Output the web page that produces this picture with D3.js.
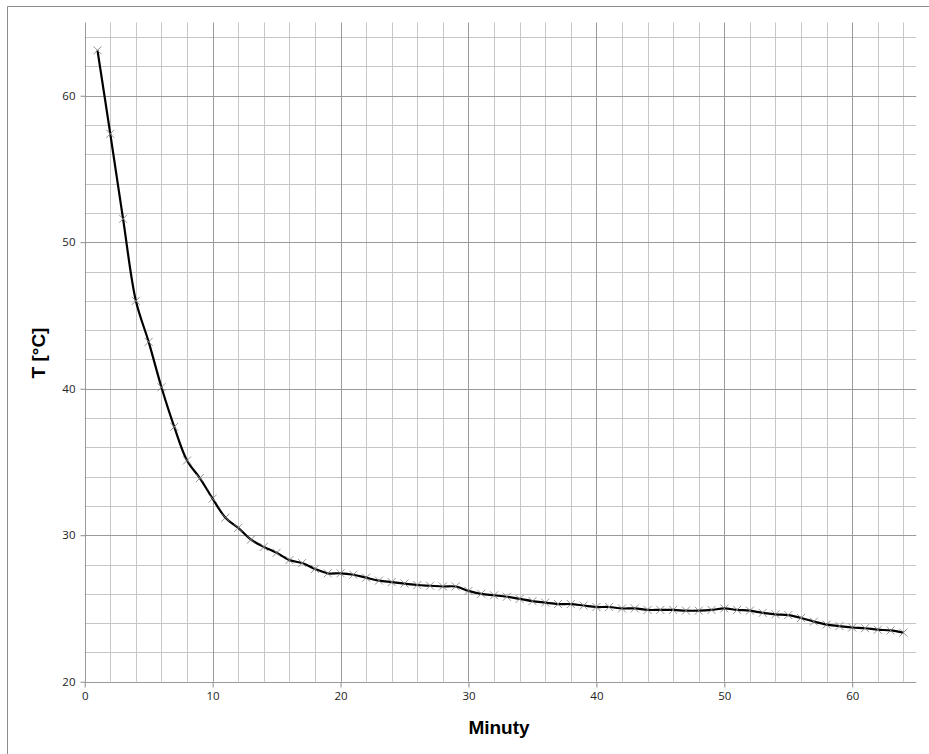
<!DOCTYPE html>
<html>
<head>
<meta charset="utf-8">
<script src="https://cdn.jsdelivr.net/npm/d3@7"></script>
<style>
  html, body { margin: 0; padding: 0; background: #fff; }
  svg { display: block; }
</style>
</head>
<body>
<svg id="chart" width="929" height="754"></svg>
<script>
// ---- data ----
const minutes = d3.range(1, 65);
const temps = [
  63.1, 57.4, 51.6, 46.0, 43.2, 40.1, 37.4, 35.1, 33.9, 32.5,
  31.2, 30.5, 29.7, 29.2, 28.8, 28.3, 28.1, 27.7, 27.4, 27.4,
  27.3, 27.1, 26.9, 26.8, 26.7, 26.6, 26.55, 26.5, 26.5, 26.2,
  26.0, 25.9, 25.8, 25.65, 25.5, 25.4, 25.3, 25.3, 25.2, 25.1,
  25.1, 25.0, 25.0, 24.9, 24.9, 24.9, 24.85, 24.85, 24.9, 25.0,
  24.9, 24.85, 24.7, 24.6, 24.55, 24.35, 24.1, 23.9, 23.8, 23.7,
  23.65, 23.55, 23.5, 23.35
];
const xTicks = [0, 10, 20, 30, 40, 50, 60];
const yTicks = [20, 30, 40, 50, 60];
const xMinor = d3.range(0, 65, 2);
const yMinor = d3.range(20, 65, 2);
const xTitle = "Minuty";
const yTitle = "T [°C]";

(function () {
const svg = d3.select("#chart");
const W = 929, H = 754;

// outer frame
svg.append("line").attr("x1", 7.5).attr("x2", W).attr("y1", 6.5).attr("y2", 6.5)
  .attr("stroke", "#8c8c8c").attr("stroke-width", 1);
svg.append("line").attr("x1", 7.5).attr("x2", 7.5).attr("y1", 6.5).attr("y2", H)
  .attr("stroke", "#8c8c8c").attr("stroke-width", 1);

const pLeft = 84.7, pRight = 916.2, pTop = 22.5, pBottom = 681.7;
const x = d3.scaleLinear().domain([0, 65]).range([pLeft, pRight]);
const y = d3.scaleLinear().domain([20, 65]).range([pBottom, pTop]);

const g = svg.append("g");
const vMinorVals = xMinor.filter(v => v % 10 !== 0);
const hMinorVals = yMinor.filter(v => v % 10 !== 0);

g.selectAll("line.vminor").data(vMinorVals).join("line").attr("class", "vminor")
  .attr("x1", d => Math.round(x(d)) + 0.5).attr("x2", d => Math.round(x(d)) + 0.5)
  .attr("y1", pTop).attr("y2", pBottom)
  .attr("stroke", "#c6c6c6").attr("stroke-width", 1);
g.selectAll("line.hminor").data(hMinorVals).join("line").attr("class", "hminor")
  .attr("y1", d => Math.round(y(d)) + 0.5).attr("y2", d => Math.round(y(d)) + 0.5)
  .attr("x1", pLeft).attr("x2", pRight)
  .attr("stroke", "#c6c6c6").attr("stroke-width", 1);
g.selectAll("line.vmajor").data(xTicks).join("line").attr("class", "vmajor")
  .attr("x1", d => Math.round(x(d)) + 0.5).attr("x2", d => Math.round(x(d)) + 0.5)
  .attr("y1", pTop).attr("y2", pBottom)
  .attr("stroke", "#9a9a9a").attr("stroke-width", 1);
g.selectAll("line.hmajor").data(yTicks).join("line").attr("class", "hmajor")
  .attr("y1", d => Math.round(y(d)) + 0.5).attr("y2", d => Math.round(y(d)) + 0.5)
  .attr("x1", pLeft).attr("x2", pRight)
  .attr("stroke", "#9a9a9a").attr("stroke-width", 1);

// axes
const xAxis = d3.axisBottom(x).tickValues(xTicks).tickSize(5).tickPadding(4).tickFormat(d3.format("d"));
const yAxis = d3.axisLeft(y).tickValues(yTicks).tickSize(5).tickPadding(5).tickFormat(d3.format("d"));

const gx = svg.append("g").attr("transform", `translate(0,${Math.round(pBottom) + 0.5})`).call(xAxis);
const gy = svg.append("g").attr("transform", `translate(${Math.round(pLeft) + 0.5},0)`).call(yAxis);
[gx, gy].forEach(a => {
  a.selectAll(".tick line").attr("stroke", "#8c8c8c");
  a.selectAll(".tick text").attr("fill", "#222").attr("font-family", "'Open Sans', 'Liberation Sans', sans-serif").attr("font-size", 11.5);
  a.select(".domain").remove();
});

// smoothed line
const line = d3.line()
  .x((d, i) => x(minutes[i]))
  .y(d => y(d))
  .curve(d3.curveCatmullRom.alpha(0.5));
svg.append("path").datum(temps)
  .attr("d", line)
  .attr("fill", "none").attr("stroke", "#000").attr("stroke-width", 2.2);

// × markers
const m = 4;
svg.append("g").selectAll("path").data(temps).join("path")
  .attr("transform", (d, i) => `translate(${x(minutes[i])},${y(d)})`)
  .attr("d", `M${-m},${-m}L${m},${m}M${-m},${m}L${m},${-m}`)
  .attr("stroke", "#808080").attr("stroke-width", 1).attr("fill", "none").attr("opacity", 0.85);

// axis titles
svg.append("text").text(xTitle)
  .attr("x", 499).attr("y", 734)
  .attr("text-anchor", "middle")
  .attr("font-family", "'Liberation Sans', Arial, sans-serif")
  .attr("font-weight", "bold").attr("font-size", 19).attr("fill", "#000");
svg.append("text").text(yTitle)
  .attr("transform", "translate(45,353) rotate(-90)")
  .attr("text-anchor", "middle")
  .attr("font-family", "'Liberation Sans', Arial, sans-serif")
  .attr("font-weight", "bold").attr("font-size", 19).attr("fill", "#000");
})();
</script>
</body>
</html>
